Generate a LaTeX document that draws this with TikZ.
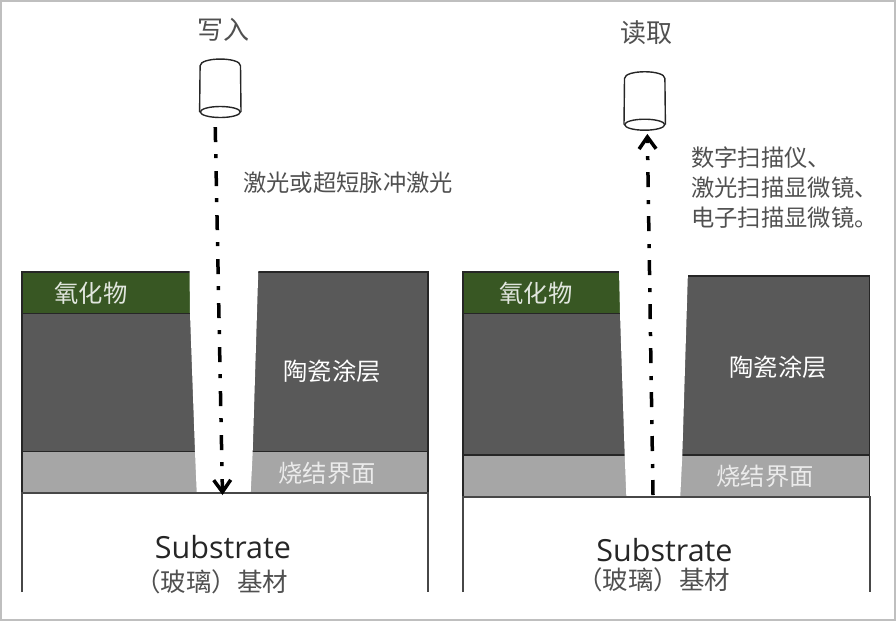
\documentclass[tikz,border=0pt]{standalone}
\usepackage{fontspec}
\setmainfont{Noto Sans CJK SC}
\newfontfamily\latinfont{Open Sans}
\usepackage{xcolor}
\usepackage{tikz}
\usetikzlibrary{arrows.meta,shapes.geometric}
\definecolor{oxideGreen}{HTML}{385723}
\definecolor{ceramicGray}{HTML}{595959}
\definecolor{sinterGray}{HTML}{A6A6A6}
\definecolor{edgeGray}{HTML}{262626}
\definecolor{labelGray}{HTML}{505050}
\tikzset{
  film/oxide/.style={draw=edgeGray, line width=1.5pt, fill=oxideGreen},
  film/ceramic/.style={draw=edgeGray, line width=1.5pt, fill=ceramicGray},
  film/sinter/.style={draw=edgeGray, line width=1.5pt, fill=sinterGray},
  film/slot/.style={fill=white},
  film/substrate/.style={draw=edgeGray!85, line width=1.6pt},
  head/body/.style={inner sep=0pt, minimum width=40pt, minimum height=59pt},
  head/line/.style={draw=black!85, line width=1.4pt},
  head/lens/.style={head/line, ellipse, inner sep=0pt, minimum width=40pt, minimum height=11pt},
  laser/.style={line width=3.5pt, dash pattern=on 15pt off 12pt on 4pt off 13pt, -{Straight Barb[length=12pt,width=17pt,line width=3.5pt]}},
  lbl/plain/.style={font=\fontsize{23.3}{30}\selectfont, text=labelGray, inner sep=0pt, align=left},
  lbl/title/.style={font=\fontsize{26}{30}\selectfont, text=labelGray, inner sep=0pt},
  lbl/onfilm/.style={font=\fontsize{24.3}{30}\selectfont, text=white, inner sep=0pt},
  lbl/latin/.style={font=\latinfont\fontsize{30.5}{34}\selectfont, text=black!85, inner sep=0pt},
  lbl/base/.style={font=\fontsize{25.5}{30}\selectfont, text=labelGray, inner sep=0pt}
}
\begin{document}
\begin{tikzpicture}[x=1pt,y=-1pt]
  \useasboundingbox (0,0) rectangle (896,622);
  \draw[black!25, line width=2pt] (1,1) rectangle (895,620);

  \draw[film/ceramic] (22,313.5) rectangle (210,451.7);
  \draw[film/oxide] (22,272) rectangle (210,313.5);
  \draw[film/sinter] (22,451.7) rectangle (428,493);
  \draw[film/ceramic] (240,272) rectangle (428,451.7);
  \fill[film/slot] (189.5,270) -- (190,313.5) -- (195,451.7) -- (196.7,492.2) -- (250.7,492.2) -- (252.7,451.7) -- (258.3,270) -- cycle;
  \draw[film/substrate] (22,592) -- (22,493) -- (428,493) -- (428,592);

  \draw[film/ceramic] (463,313.5) rectangle (650,455);
  \draw[film/oxide] (463,272) rectangle (650,313.5);
  \draw[film/sinter] (463,455) rectangle (869.7,496.7);
  \draw[film/ceramic] (660,276) rectangle (869.7,455);
  \fill[film/slot] (619,270) -- (620,313.5) -- (624.7,455) -- (626.3,495.9) -- (680.3,495.9) -- (682.3,455) -- (688,270) -- cycle;
  \draw[film/substrate] (463,592) -- (463,496.7) -- (869.7,496.7) -- (869.7,592);

  \node[lbl/title] (writeTitle) at (223,30) {写入};
  \node[lbl/title] (readTitle) at (646,33) {读取};
  \node[head/body] (writeHead) at (220.3,88.5) {};
  \node[head/body] (readHead) at (644.7,101.2) {};
  \foreach \hd in {writeHead,readHead} {
    \node[head/lens, anchor=south] (\hd Lens) at (\hd.south) {};
    \draw[head/line] (\hd Lens.west) -- ([yshift=-7pt]\hd.north west)
      .. controls ([yshift=2pt]\hd.north west) and ([yshift=2pt]\hd.north east) .. ([yshift=-7pt]\hd.north east)
      -- (\hd Lens.east);
  }
  \coordinate (writeSpot) at (222.5,495);
  \coordinate (readSpot) at (653,495);

  \draw[laser, shorten <=9pt] (writeHead.260) -- (writeSpot);
  \draw[laser, shorten >=3pt] (readSpot) -- (readHead.275);

  \node[lbl/plain, anchor=west] (writeNote) at (243,183) {激光或超短脉冲激光};
  \node[lbl/plain, anchor=west] (readNote) at (691,187.5) {数字扫描仪、\\激光扫描显微镜、\\电子扫描显微镜。};

  \node[lbl/onfilm, text=oxideGreen!15] (oxideA) at (91,293) {氧化物};
  \node[lbl/onfilm, text=oxideGreen!15] (oxideB) at (536,293) {氧化物};
  \node[lbl/onfilm] (ceramicA) at (332,371) {陶瓷涂层};
  \node[lbl/onfilm] (ceramicB) at (778,367) {陶瓷涂层};
  \node[lbl/onfilm, text=black!8] (sinterA) at (327,473) {烧结界面};
  \node[lbl/onfilm, text=black!8] (sinterB) at (765,476) {烧结界面};

  \node[lbl/latin] (substrateA) at (223,547) {Substrate};
  \node[lbl/latin] (substrateB) at (664.5,550) {Substrate};
  \node[lbl/base] (baseA) at (211.5,582) {（玻璃）基材};
  \node[lbl/base] (baseB) at (653.5,580) {（玻璃）基材};
\end{tikzpicture}
\end{document}
